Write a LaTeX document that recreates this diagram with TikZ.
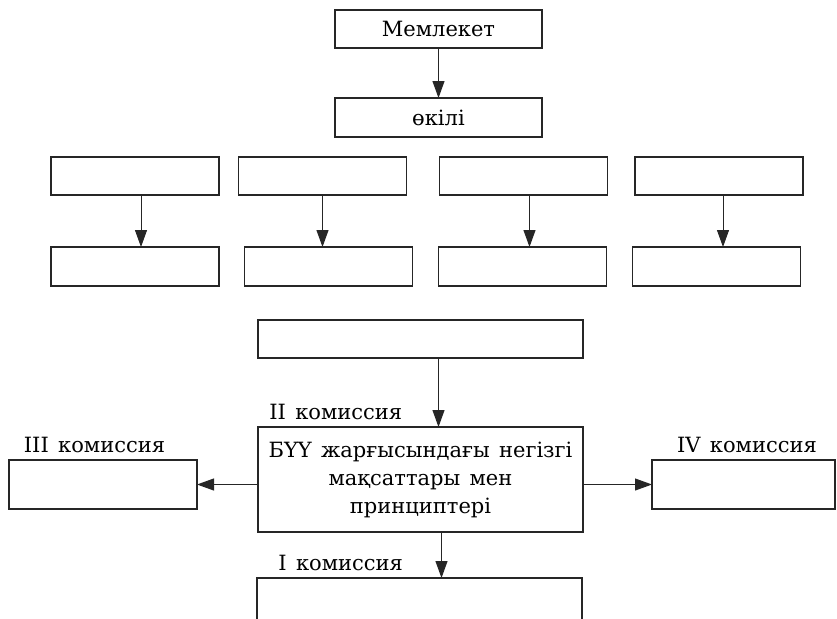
\documentclass[tikz,border=0pt]{standalone}
\usepackage{fontspec}
\setmainfont[WordSpace=1.4]{DejaVu Serif}
\usepackage{tikz}
\usetikzlibrary{arrows.meta,positioning}

\begin{document}
\begin{tikzpicture}[x=0.5pt, y=-0.5pt, font=\fontsize{10.5}{14}\selectfont,
    box/.style = {draw=black!85, line width=0.6pt, inner sep=0pt, outer sep=0pt},
    arr/.style = {-{Triangle[length=8.5pt,width=6pt]}, line width=0.5pt, black!85},
    lbl/.style = {inner sep=0pt}]
    \useasboundingbox (0,0) rectangle (837,618);
    \clip (0,0) rectangle (837,618);

    % upper part
    \node[box, minimum width=103.5pt, minimum height=19pt] (mem) at (438.5,29) {Мемлекет};
    \node[box, minimum width=103.5pt, minimum height=19.5pt] (okil) at (438.5,117.5) {өкілі};
    \draw[arr] (mem) -- (okil);

    \foreach \i/\xa/\xb in {1/135/135, 2/322.5/328.5, 3/523.5/522.5, 4/719/716.5} {
        \node[box, minimum width=84pt, minimum height=19pt] (a\i) at (\xa,176) {};
        \node[box, minimum width=84pt, minimum height=19.5pt] (b\i) at (\xb,266.5) {};
    }
    \foreach \i/\dx in {1/3pt, 2/0pt, 3/3pt, 4/2pt}
        \draw[arr] ([xshift=\dx]a\i.south) -- ([xshift=\dx]a\i.south |- b\i.north);

    % lower part
    \node[box, minimum width=162.5pt, minimum height=19pt] (top) at (420.5,339) {};
    \node[box, minimum width=162.5pt, minimum height=52.5pt, align=center] (main) at (420.5,479.5)
        {БҮҮ жарғысындағы негізгі\\ мақсаттары мен\\ принциптері};
    \node[box, minimum width=94pt, minimum height=24.5pt] (c3) at (103,484.5) {};
    \node[box, minimum width=91.5pt, minimum height=24.5pt] (c4) at (743.5,484.5) {};
    \node[box, minimum width=162.5pt, minimum height=40pt] (c1) at (419.5,618) {};

    \node[lbl, anchor=west] (l2) at (269,412) {II комиссия};
    \node[lbl] (l3) at (94.5,445) {III комиссия};
    \node[lbl] (l4) at (747,445) {IV комиссия};
    \node[lbl, anchor=west] (l1) at (278,563) {I комиссия};

    \draw[arr] ([xshift=9pt]top.south) -- ([xshift=9pt]top.south |- main.north);
    \draw[arr] (main.west |- c3) -- (c3.east);
    \draw[arr] (main.east |- c4) -- (c4.west);
    \draw[arr] ([xshift=10.5pt]main.south) -- ([xshift=10.5pt]main.south |- c1.north);
\end{tikzpicture}
\end{document}
